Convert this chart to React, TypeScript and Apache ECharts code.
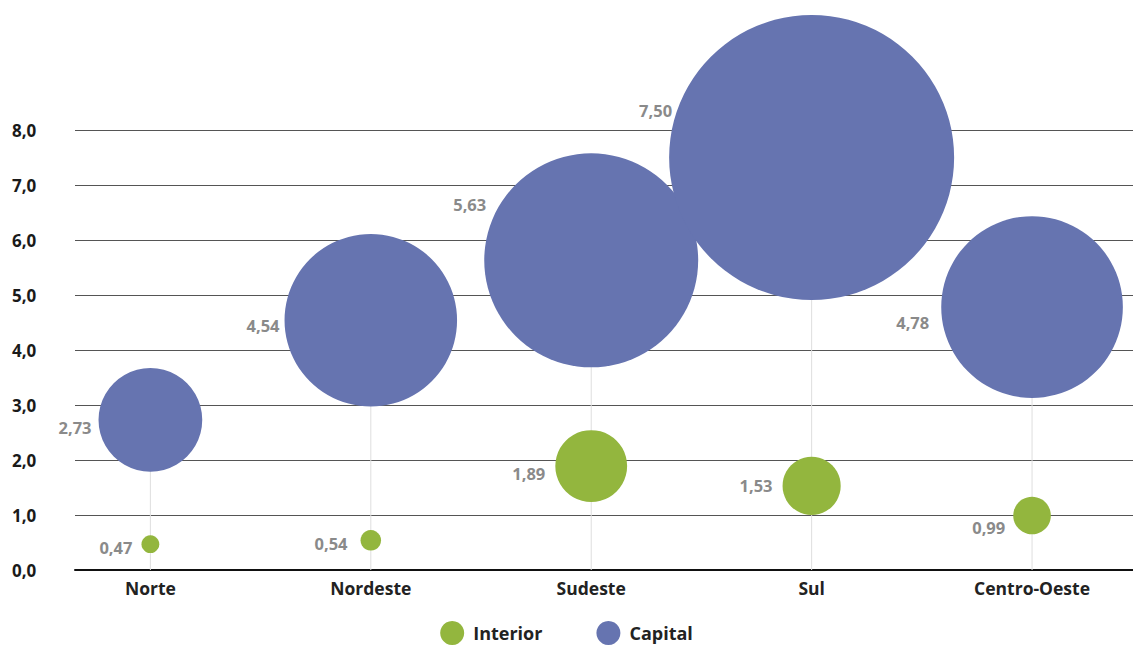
import React, { useEffect, useRef } from "react";
import * as echarts from "echarts";

const categories = ["Norte", "Nordeste", "Sudeste", "Sul", "Centro-Oeste"];
const interiorValues = [0.47, 0.54, 1.89, 1.53, 0.99];
const capitalValues = [2.73, 4.54, 5.63, 7.5, 4.78];
const yTicks = [0, 1, 2, 3, 4, 5, 6, 7, 8];

const BLUE = "#6674b0";
const GREEN = "#93b63e";
const FONT = "'Open Sans', 'Noto Sans', sans-serif";

const fmt = (v: number, d: number) => v.toFixed(d).replace(".", ",");

export default function App() {
  const ref = useRef<HTMLDivElement>(null);

  useEffect(() => {
    if (!ref.current) return;
    const chart = echarts.init(ref.current, undefined, { renderer: "svg" });

    // label nudges (styling only)
    const capitalNudge = [
      [0, 8],
      [2, 5],
      [9, -56],
      [10, -47],
      [-5, 15],
    ];
    const interiorNudge = [
      [-2, 3],
      [-6, 3],
      [-3, 7],
      [-3, 0],
      [-1, 12],
    ];

    const labelStyle = {
      show: true,
      position: "left" as const,
      distance: 7,
      color: "#8a8a8a",
      fontFamily: FONT,
      fontWeight: "bold" as const,
      fontSize: 16.5,
      formatter: (p: any) => fmt(p.value[1], 2),
    };

    chart.setOption({
      animation: false,
      backgroundColor: "#ffffff",
      grid: { left: 75, right: 0, top: 130, bottom: 76, containLabel: false },
      legend: {
        data: ["Interior", "Capital"],
        top: 621,
        left: "center",
        icon: "circle",
        itemWidth: 24,
        itemHeight: 24,
        itemGap: 54,
        padding: 0,
        textStyle: {
          fontFamily: FONT,
          fontWeight: "bold",
          fontSize: 18,
          lineHeight: 22,
          color: "#222",
          padding: [0, 0, 0, 4],
        },
      },
      xAxis: {
        type: "value",
        min: -0.342,
        max: 4.458,
        splitLine: { show: false },
        axisTick: { show: false },
        axisLine: { show: true, lineStyle: { color: "#111", width: 2 } },
        axisLabel: {
          customValues: categories.map((_, i) => i),
          formatter: (v: number) => categories[Math.round(v)] ?? "",
          margin: 9,
          fontFamily: FONT,
          fontWeight: "bold",
          fontSize: 17.5,
          color: "#222",
        },
      },
      yAxis: {
        type: "value",
        min: yTicks[0],
        max: yTicks[yTicks.length - 1],
        interval: 1,
        axisLine: { show: false },
        axisTick: { show: false },
        splitLine: { lineStyle: { color: "#555", width: 1 } },
        axisLabel: {
          formatter: (v: number) => fmt(v, 1),
          align: "left",
          margin: 63,
          padding: [0, 0, 5, 0],
          fontFamily: FONT,
          fontWeight: "bold",
          fontSize: 17,
          color: "#1a1a1a",
        },
      },
      series: [
        {
          name: "drop",
          type: "bar",
          barWidth: 1,
          silent: true,
          z: 1,
          itemStyle: { color: "#dedede" },
          data: capitalValues.map((v, i) => [i, v]),
        },
        {
          name: "Interior",
          type: "scatter",
          z: 3,
          clip: false,
          itemStyle: { color: GREEN, opacity: 1 },
          symbolSize: (v: number[]) => v[1] * 38,
          data: interiorValues.map((v, i) => ({
            value: [i, v],
            label: { offset: interiorNudge[i] },
          })),
          label: labelStyle,
        },
        {
          name: "Capital",
          type: "scatter",
          z: 2,
          clip: false,
          itemStyle: { color: BLUE, opacity: 1 },
          symbolSize: (v: number[]) => v[1] * 38,
          data: capitalValues.map((v, i) => ({
            value: [i, v],
            label: { offset: capitalNudge[i] },
          })),
          label: labelStyle,
        },
      ],
    });

    return () => chart.dispose();
  }, []);

  return (
    <div
      ref={ref}
      style={{ position: "fixed", left: 0, top: 0, width: 1133, height: 646, background: "#fff" }}
    />
  );
}
